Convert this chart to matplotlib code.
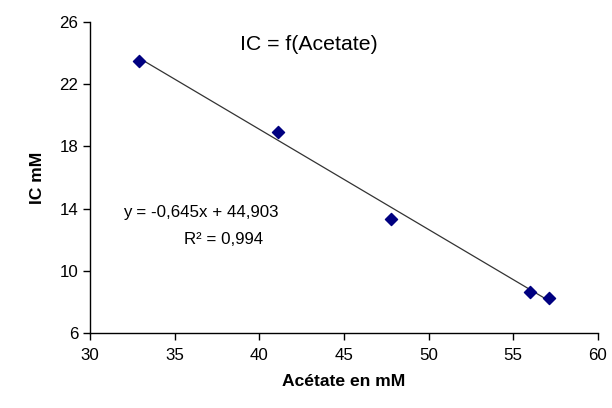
import matplotlib
matplotlib.use("Agg")
import matplotlib.pyplot as plt
import numpy as np
from matplotlib import font_manager

acetate = [32.9, 41.1, 47.8, 56.0, 57.1]
ic = [23.5, 18.9, 13.35, 8.65, 8.25]
slope = -0.645
intercept = 44.903
x_ticks = [30, 35, 40, 45, 50, 55, 60]
y_ticks = [6, 10, 14, 18, 22, 26]

names = {f.name for f in font_manager.fontManager.ttflist}
narrow = 'Liberation Sans Narrow' in names
print('narrow available:', narrow)
plt.rcParams['font.family'] = (['Liberation Sans Narrow'] if narrow else []) + ['Liberation Sans', 'DejaVu Sans']
scale = 1.0 if narrow else 0.9

fig = plt.figure(figsize=(6.12, 4.08), dpi=100)
ax = fig.add_axes([0.147, 0.184, 0.83, 0.762])

xl = np.array([min(acetate), max(acetate)])
ax.plot(xl, slope * xl + intercept, color='#333333', lw=0.9, zorder=2)
ax.scatter(acetate, ic, marker='D', s=38, color='#000080', zorder=3)

ax.set_xlim(30, 60)
ax.set_ylim(6, 26)
ax.set_xticks(x_ticks)
ax.set_yticks(y_ticks)
ax.tick_params(labelsize=13.5 * scale, length=5, width=1, direction='out')
ax.tick_params(axis='x', pad=6)
for s in ['top', 'right']:
    ax.spines[s].set_visible(False)
for s in ['left', 'bottom']:
    ax.spines[s].set_linewidth(1)

ax.set_xlabel('Acétate en mM', fontsize=14 * scale, fontweight='bold', labelpad=8)
ax.set_ylabel('IC mM', fontsize=14 * scale, fontweight='bold', labelpad=10)
fig.text(309 / 612, 1 - 44 / 408, 'IC = f(Acetate)', fontsize=17 * scale,
         ha='center', va='center')
fig.text(201 / 612, 1 - 212 / 408, 'y = -0,645x + 44,903', fontsize=13.5 * scale,
         ha='center', va='center')
fig.text(224 / 612, 1 - 240 / 408, 'R² = 0,994', fontsize=13.5 * scale,
         ha='center', va='center')

fig.savefig('out.png', dpi=100)
